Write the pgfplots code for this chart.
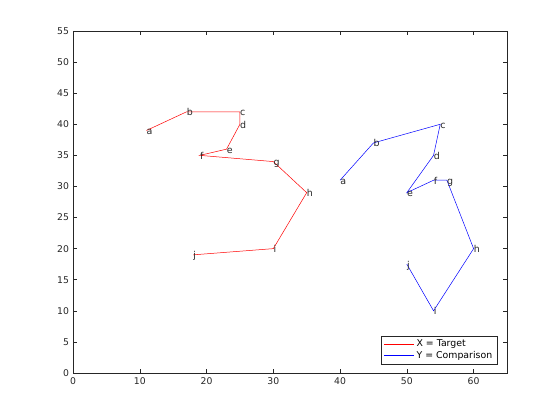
\documentclass[border=0pt]{standalone}
\usepackage{pgfplots}
\pgfplotsset{compat=1.18}
\usepackage{fontspec}
\setmainfont{DejaVu Sans}
\definecolor{axgray}{RGB}{38,38,38}
\pgfplotstableread{
x y lab
11 39 a
17 42 b
25 42 c
25 40 d
23 36 e
19 35 f
30 34 g
35 29 h
30 20 i
18 19 j
}\redtab
\pgfplotstableread{
x y lab
40 31 a
45 37 b
55 40 c
54 35 d
50 29 e
54 31 f
56 31 g
60 20 h
54 10 i
50 17.5 j
}\bluetab
\begin{document}
\begin{tikzpicture}
\begin{axis}[
  at={(0,0)}, anchor=south west,
  scale only axis, width=434bp, height=342bp,
  xmin=0, xmax=65, ymin=0, ymax=55,
  xtick={0,10,...,60}, ytick={0,5,...,55},
  tick align=inside, tick pos=both, major tick length=4.3bp,
  axis line style={axgray, line width=0.5bp},
  every tick/.style={axgray, line width=0.5bp},
  tick label style={font=\fontsize{9.3}{10}\selectfont, text=axgray},
  /pgf/number format/assume math mode=true,
  xticklabel style={yshift=-1bp},
  yticklabel style={xshift=-0.5bp},
  legend style={at={(rel axis cs:0.978,0.026)}, anchor=south east,
    font=\fontsize{9.4}{10}\selectfont, draw=axgray, line width=0.5bp,
    inner xsep=3bp, inner ysep=2bp, row sep=-1bp},
  legend cell align=left,
  legend image code/.code={\draw[#1, line width=0.5bp] (0bp,0bp) -- (30bp,0bp);},
  clip=false,
  every node near coord/.style={anchor=base west, inner sep=0pt, yshift=-4bp,
    text=axgray, font=\fontsize{9.5}{10}\selectfont},
]
\addplot[red, line width=0.5bp, mark=none, nodes near coords,
  point meta=explicit symbolic] table[x=x, y=y, meta=lab] {\redtab};
\addlegendentry{X = Target}
\addplot[blue, line width=0.5bp, mark=none, nodes near coords,
  point meta=explicit symbolic] table[x=x, y=y, meta=lab] {\bluetab};
\addlegendentry{Y = Comparison}
\end{axis}
\path (-73bp,-47bp) rectangle (487bp,373bp);
\end{tikzpicture}
\end{document}
